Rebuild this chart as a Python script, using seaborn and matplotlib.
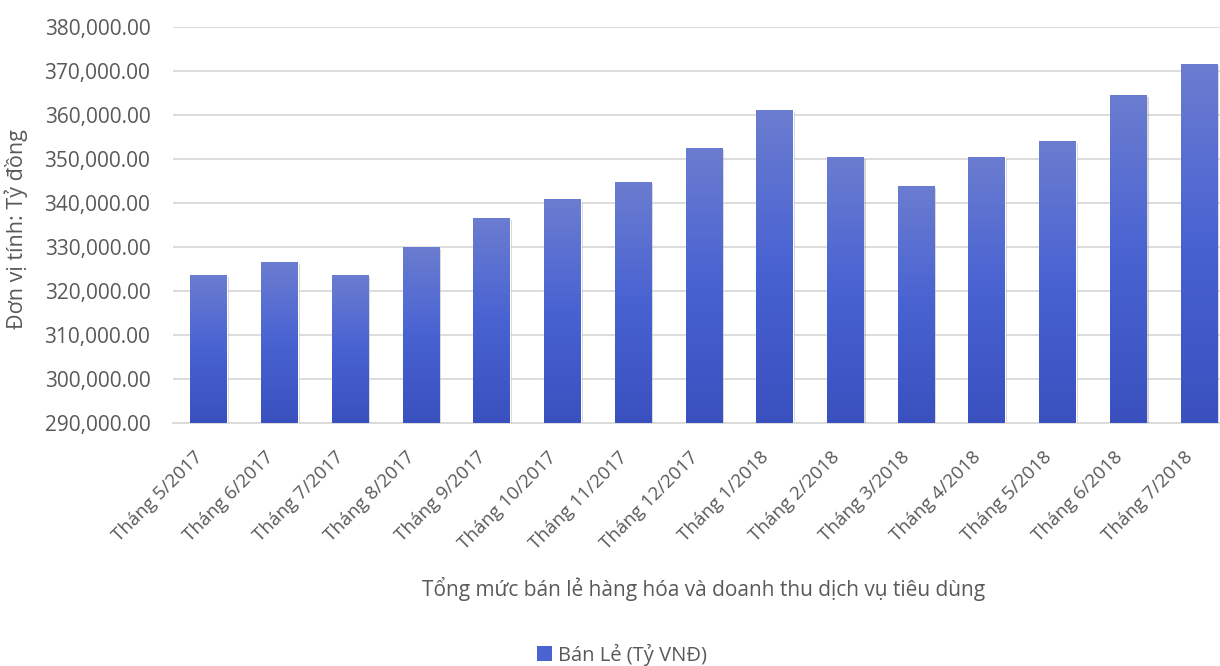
import numpy as np
import pandas as pd
import matplotlib
matplotlib.use("Agg")
import matplotlib.pyplot as plt
import matplotlib.patheffects as pe
import matplotlib.transforms as mtransforms
from matplotlib.colors import LinearSegmentedColormap
from matplotlib.patches import Patch
from matplotlib.ticker import FuncFormatter, MultipleLocator
import seaborn as sns

# Monthly retail sales and consumer service revenue (billion VND)
months = ["Tháng 5/2017", "Tháng 6/2017", "Tháng 7/2017", "Tháng 8/2017",
          "Tháng 9/2017", "Tháng 10/2017", "Tháng 11/2017", "Tháng 12/2017",
          "Tháng 1/2018", "Tháng 2/2018", "Tháng 3/2018", "Tháng 4/2018",
          "Tháng 5/2018", "Tháng 6/2018", "Tháng 7/2018"]
retail = [323600, 326500, 323600, 329900, 336500, 340800, 344700, 352400,
          361100, 350400, 343800, 350400, 354000, 364500, 371500]
series_name = "Bán Lẻ (Tỷ VNĐ)"
y_title = "Đơn vị tính: Tỷ đồng"
x_title = "Tổng mức bán lẻ hàng hóa và doanh thu dịch vụ tiêu dùng"

df = pd.DataFrame({"month": months, "value": retail})

sns.set_theme(style="white")
plt.rcParams["font.family"] = ["Open Sans", "DejaVu Sans"]

text_color = "#595959"
grid_color = "#d9d9d9"
bar_mid = "#4a63d0"

fig = plt.figure(figsize=(12.2, 6.66), dpi=100)
# plot area runs slightly past the right edge of the canvas
ax = fig.add_axes([0.142, 0.365, 0.8697, 0.5945])

sns.barplot(data=df, x="month", y="value", color=bar_mid, width=0.516,
            saturation=1, ax=ax, zorder=3)

ax.set_ylim(290000, 380000)
ax.yaxis.set_major_locator(MultipleLocator(10000))
ax.yaxis.set_major_formatter(FuncFormatter(lambda v, p: f"{v:,.2f}"))
ax.set_xlim(-0.5, len(months) - 0.5)

# vertical gradient fill clipped to each bar, plus a soft shadow
cmap = LinearSegmentedColormap.from_list(
    "bar", ["#3a50bf", "#4862d2", "#6b7dd0"])
grad = np.linspace(0, 1, 256).reshape(-1, 1)
for patch in ax.patches:
    x0, y0 = patch.get_x(), patch.get_y()
    w, h = patch.get_width(), patch.get_height()
    patch.set_path_effects([pe.SimplePatchShadow(offset=(1.5, -1.5),
                                                 shadow_rgbFace="#808080",
                                                 alpha=0.35), pe.Normal()])
    im = ax.imshow(grad, cmap=cmap, origin="lower", aspect="auto",
                   extent=[x0, x0 + w, 290000, y0 + h], zorder=4,
                   interpolation="bicubic")
    im.set_clip_path(patch)

ax.grid(axis="y", color=grid_color, linewidth=1.3, zorder=0)
ax.grid(axis="x", visible=False)
for side in ["top", "right", "left"]:
    ax.spines[side].set_visible(False)
ax.spines["bottom"].set_color(grid_color)
ax.spines["bottom"].set_linewidth(1.3)

ax.tick_params(axis="y", length=0, labelsize=15, labelcolor=text_color, pad=16.5)
ax.tick_params(axis="x", length=0, labelsize=13.5, labelcolor=text_color, pad=6)
shift = mtransforms.ScaledTranslation(-0.15, -0.17, fig.dpi_scale_trans)
for lbl in ax.get_xticklabels():
    lbl.set_rotation(45)
    lbl.set_ha("right")
    lbl.set_rotation_mode("anchor")
    lbl.set_transform(lbl.get_transform() + shift)

ax.set_xlabel(x_title, fontsize=15, color=text_color)
ax.xaxis.set_label_coords(0.5, -0.39)
ax.set_ylabel(y_title, fontsize=15.5, color=text_color)
ax.yaxis.set_label_coords(-0.1367, 0.49)

handle = Patch(facecolor=bar_mid, edgecolor="none")
fig.legend([handle], [series_name], loc="center", bbox_to_anchor=(0.51, 0.017),
           frameon=False, fontsize=14.5, labelcolor=text_color,
           handlelength=0.75, handleheight=0.75, handletextpad=0.3)

fig.savefig("out.png", dpi=100, facecolor="white")
